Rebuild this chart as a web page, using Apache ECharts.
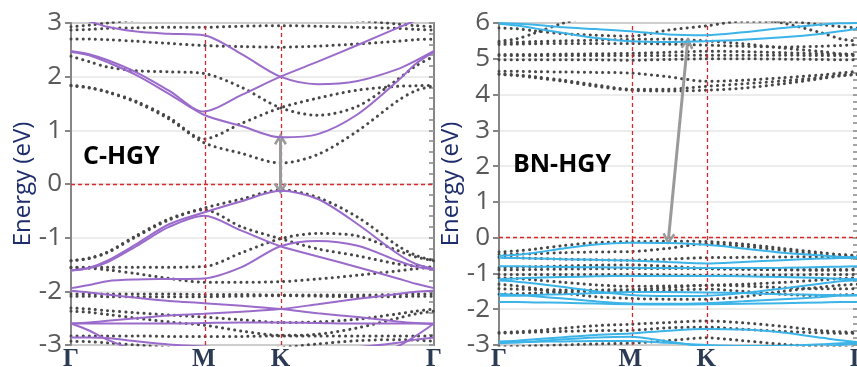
<!DOCTYPE html>
<html>
<head>
<meta charset="utf-8">
<script src="https://cdn.jsdelivr.net/npm/echarts@6/dist/echarts.min.js"></script>
<style>
  html, body { margin: 0; padding: 0; background: #fff; }
  #chart { width: 857px; height: 367px; }
</style>
</head>
<body>
<div id="chart"></div>
<script>
// path coordinate along Γ-M-K-Γ (fraction of the total length)
const kPath = [0, 0.05, 0.1, 0.18, 0.27, 0.366, 0.47, 0.577, 0.68, 0.79, 0.9, 0.95, 1];
const kTicks = [0, 0.366, 0.577, 1];
const kLabels = ['Γ', 'M', 'K', 'Γ'];

// C-HGY, solid (purple) bands, eV at each kPath point
const cHgySolid = [
  [3.1, 3.03, 2.93, 2.84, 2.8, 2.77, 2.42, 2.0, 1.86, 1.92, 2.14, 2.3, 2.48],
  [2.48, 2.42, 2.31, 2.08, 1.74, 1.35, 1.66, 2.0, 2.28, 2.59, 2.91, 3.05, 3.2],
  [2.46, 2.4, 2.27, 2.03, 1.68, 1.29, 1.08, 0.87, 0.93, 1.3, 1.92, 2.24, 2.46],
  [-1.61, -1.56, -1.43, -1.12, -0.75, -0.53, -0.32, -0.125, -0.28, -0.75, -1.3, -1.49, -1.58],
  [-1.61, -1.57, -1.46, -1.16, -0.8, -0.59, -0.87, -1.16, -1.35, -1.55, -1.76, -1.86, -1.94],
  [-1.94, -1.88, -1.81, -1.78, -1.77, -1.76, -1.55, -1.16, -1.06, -1.15, -1.43, -1.54, -1.6],
  [-1.99, -2.02, -2.06, -2.12, -2.18, -2.22, -2.27, -2.33, -2.41, -2.48, -2.56, -2.59, -2.61],
  [-2.6, -2.58, -2.55, -2.5, -2.45, -2.42, -2.38, -2.33, -2.24, -2.14, -2.05, -2.01, -1.99],
  [-2.6, -2.6, -2.6, -2.6, -2.6, -2.59, -2.58, -2.58, -2.59, -2.6, -2.6, -2.6, -2.6],
  [-2.6, -2.73, -2.9, -3.1, -3.25, -3.35, -3.4, -3.4, -3.35, -3.2, -3.02, -2.83, -2.6],
  [-2.86, -2.86, -2.87, -2.93, -2.99, -3.03, -3.06, -3.06, -3.06, -3.04, -2.96, -2.9, -2.86]
];

// C-HGY, dotted (gray) bands
const cHgyDotted = [
  [1.83, 1.79, 1.71, 1.52, 1.21, 0.77, 0.57, 0.39, 0.55, 0.99, 1.55, 1.74, 1.83],
  [1.84, 1.8, 1.72, 1.54, 1.24, 0.84, 1.13, 1.42, 1.6, 1.75, 1.82, 1.83, 1.84],
  [2.38, 2.28, 2.18, 2.11, 2.09, 2.06, 1.8, 1.42, 1.28, 1.45, 1.95, 2.2, 2.38],
  [2.7, 2.7, 2.69, 2.66, 2.62, 2.58, 2.56, 2.55, 2.57, 2.61, 2.66, 2.69, 2.7],
  [2.87, 2.88, 2.9, 2.91, 2.92, 2.92, 2.94, 2.95, 2.94, 2.92, 2.9, 2.88, 2.87],
  [2.93, 2.96, 3.0, 3.06, 3.1, 3.12, 3.12, 3.12, 3.1, 3.05, 2.98, 2.95, 2.93],
  [-1.43, -1.38, -1.27, -0.96, -0.65, -0.45, -0.28, -0.11, -0.25, -0.62, -1.15, -1.33, -1.43],
  [-1.43, -1.39, -1.28, -0.98, -0.67, -0.48, -0.8, -1.02, -1.21, -1.34, -1.49, -1.53, -1.55],
  [-1.55, -1.55, -1.55, -1.55, -1.55, -1.54, -1.28, -1.02, -0.92, -0.97, -1.24, -1.36, -1.43],
  [-1.56, -1.57, -1.6, -1.67, -1.76, -1.83, -1.83, -1.82, -1.77, -1.7, -1.62, -1.58, -1.55],
  [-2.05, -2.05, -2.05, -2.05, -2.05, -2.06, -2.06, -2.07, -2.07, -2.07, -2.06, -2.05, -2.05],
  [-2.09, -2.09, -2.1, -2.1, -2.1, -2.1, -2.09, -2.08, -2.09, -2.1, -2.1, -2.09, -2.09],
  [-2.31, -2.33, -2.36, -2.4, -2.44, -2.48, -2.53, -2.58, -2.57, -2.52, -2.42, -2.37, -2.33],
  [-2.37, -2.39, -2.43, -2.5, -2.57, -2.63, -2.74, -2.82, -2.8, -2.68, -2.5, -2.42, -2.37],
  [-2.83, -2.83, -2.83, -2.83, -2.84, -2.84, -2.84, -2.83, -2.83, -2.83, -2.83, -2.83, -2.83],
  [-2.93, -2.94, -2.96, -3.0, -3.05, -3.1, -3.1, -3.05, -2.98, -2.92, -2.9, -2.91, -2.93]
];

// BN-HGY, solid (cyan) bands
const bnHgySolid = [
  [5.98, 5.93, 5.85, 5.72, 5.58, 5.49, 5.47, 5.49, 5.53, 5.6, 5.7, 5.77, 5.84],
  [6.0, 5.98, 5.95, 5.88, 5.83, 5.77, 5.68, 5.66, 5.74, 5.86, 5.96, 5.99, 6.0],
  [-0.51, -0.48, -0.42, -0.3, -0.19, -0.14, -0.15, -0.2, -0.3, -0.42, -0.5, -0.53, -0.55],
  [-0.56, -0.57, -0.58, -0.6, -0.62, -0.64, -0.68, -0.72, -0.68, -0.63, -0.58, -0.57, -0.56],
  [-0.8, -0.8, -0.81, -0.82, -0.83, -0.84, -0.85, -0.85, -0.85, -0.84, -0.82, -0.81, -0.8],
  [-1.16, -1.14, -1.12, -1.1, -1.08, -1.07, -1.07, -1.07, -1.08, -1.1, -1.13, -1.15, -1.16],
  [-1.2, -1.23, -1.28, -1.38, -1.5, -1.6, -1.63, -1.62, -1.55, -1.42, -1.28, -1.22, -1.18],
  [-1.57, -1.6, -1.64, -1.7, -1.78, -1.84, -1.85, -1.83, -1.78, -1.72, -1.66, -1.62, -1.6],
  [-1.8, -1.8, -1.81, -1.82, -1.84, -1.86, -1.87, -1.86, -1.85, -1.83, -1.81, -1.8, -1.8],
  [-1.62, -1.62, -1.6, -1.58, -1.55, -1.52, -1.52, -1.53, -1.55, -1.58, -1.6, -1.61, -1.62],
  [-2.9, -2.88, -2.84, -2.78, -2.72, -2.68, -2.6, -2.55, -2.57, -2.65, -2.8, -2.87, -2.92],
  [-2.93, -2.92, -2.91, -2.9, -2.89, -2.89, -2.94, -3.0, -3.03, -3.02, -2.98, -2.95, -2.93],
  [-2.95, -2.93, -2.9, -2.84, -2.79, -2.77, -2.9, -3.05, -3.1, -3.1, -3.05, -3.0, -2.96]
];

// BN-HGY, dotted (gray) bands
const bnHgyDotted = [
  [4.65, 4.65, 4.64, 4.63, 4.62, 4.6, 4.5, 4.37, 4.4, 4.47, 4.55, 4.6, 4.65],
  [4.56, 4.53, 4.47, 4.37, 4.23, 4.12, 4.1, 4.12, 4.18, 4.3, 4.45, 4.52, 4.56],
  [4.58, 4.55, 4.5, 4.4, 4.27, 4.15, 4.15, 4.23, 4.3, 4.38, 4.48, 4.54, 4.57],
  [5.09, 5.09, 5.09, 5.09, 5.09, 5.09, 5.09, 5.1, 5.1, 5.1, 5.09, 5.09, 5.09],
  [4.97, 4.97, 4.97, 4.97, 4.97, 4.96, 4.98, 5.0, 5.0, 4.99, 4.98, 4.97, 4.97],
  [5.12, 5.12, 5.12, 5.13, 5.14, 5.15, 5.18, 5.21, 5.2, 5.17, 5.14, 5.13, 5.12],
  [5.86, 5.84, 5.78, 5.7, 5.66, 5.63, 5.8, 5.92, 6.05, 6.05, 5.95, 5.9, 5.86],
  [5.49, 5.56, 5.72, 6.0, 6.2, 6.3, 6.3, 6.3, 6.2, 6.0, 5.72, 5.56, 5.49],
  [5.4, 5.41, 5.42, 5.43, 5.43, 5.43, 5.41, 5.38, 5.35, 5.33, 5.35, 5.37, 5.4],
  [5.45, 5.46, 5.48, 5.5, 5.52, 5.54, 5.55, 5.5, 5.42, 5.3, 5.2, 5.14, 5.12],
  [-0.4, -0.37, -0.32, -0.22, -0.14, -0.11, -0.1, -0.11, -0.18, -0.3, -0.42, -0.47, -0.5],
  [-0.47, -0.46, -0.45, -0.42, -0.4, -0.39, -0.3, -0.17, -0.24, -0.35, -0.48, -0.54, -0.58],
  [-0.55, -0.56, -0.58, -0.6, -0.62, -0.63, -0.6, -0.56, -0.55, -0.54, -0.53, -0.53, -0.55],
  [-0.84, -0.83, -0.81, -0.79, -0.77, -0.76, -0.8, -0.86, -0.88, -0.89, -0.89, -0.89, -0.88],
  [-0.9, -0.9, -0.89, -0.88, -0.87, -0.86, -0.86, -0.87, -0.88, -0.9, -0.91, -0.91, -0.9],
  [-1.03, -1.03, -1.03, -1.03, -1.03, -1.03, -1.04, -1.05, -1.05, -1.04, -1.03, -1.03, -1.03],
  [-1.12, -1.14, -1.18, -1.25, -1.32, -1.36, -1.35, -1.33, -1.3, -1.25, -1.18, -1.14, -1.12],
  [-1.43, -1.44, -1.45, -1.46, -1.46, -1.45, -1.4, -1.33, -1.35, -1.4, -1.43, -1.43, -1.43],
  [-1.58, -1.57, -1.55, -1.52, -1.5, -1.5, -1.47, -1.44, -1.5, -1.58, -1.62, -1.6, -1.58],
  [-1.3, -1.35, -1.42, -1.55, -1.65, -1.7, -1.72, -1.72, -1.65, -1.5, -1.38, -1.33, -1.3],
  [-2.65, -2.63, -2.6, -2.53, -2.46, -2.42, -2.37, -2.33, -2.38, -2.48, -2.6, -2.63, -2.65],
  [-2.67, -2.66, -2.64, -2.62, -2.6, -2.59, -2.52, -2.5, -2.56, -2.62, -2.66, -2.67, -2.67],
  [-3.05, -3.04, -3.02, -3.0, -2.97, -2.95, -2.88, -2.8, -2.88, -2.98, -3.05, -3.06, -3.06]
];

// gap arrows: [k, E] of each end
const cHgyGap = [[0.577, 0.84], [0.577, -0.09]];
const bnHgyGap = [[0.525, 5.44], [0.472, -0.04]];

const chart = echarts.init(document.getElementById('chart'));

const purple = '#9a6bcb';
const cyan = '#3cb4e8';
const dotGray = '#474747';
const frameGray = '#868686';
const chevron = 'path://M5,0 L10,8.5 L8.3,9.6 L5,4 L1.7,9.6 L0,8.5 Z';

function bands(list, grid, style, z) {
  return list.map(b => ({
    type: 'line',
    xAxisIndex: grid,
    yAxisIndex: grid * 2,
    data: b.map((e, i) => [kPath[i], e]),
    smooth: 0.3,
    symbol: 'none',
    silent: true,
    clip: true,
    z: z,
    lineStyle: style
  }))
}

const dotStyle = { color: dotGray, width: 3, type: [0.1, 6], cap: 'round' };

function guides(grid, gap) {
  return [
    {
      type: 'line', xAxisIndex: grid, yAxisIndex: grid * 2, data: [], z: 3,
      markLine: {
        silent: true, symbol: 'none', animation: false,
        label: { show: false },
        lineStyle: { color: '#d62a2a', type: [4, 3], width: 1.3, opacity: 1 },
        data: [{ xAxis: kTicks[1] }, { xAxis: kTicks[2] }, { yAxis: 0 }]
      }
    },
    {
      type: 'line', xAxisIndex: grid, yAxisIndex: grid * 2, data: [], z: 6,
      markLine: {
        silent: true, animation: false,
        symbol: [chevron, chevron], symbolSize: [13, 12],
        label: { show: false },
        lineStyle: { color: '#9a9a9a', type: 'solid', width: 3 },
        data: [[{ coord: gap[0] }, { coord: gap[1] }]]
      }
    }
  ]
}

function xAxis(grid) {
  return {
    type: 'value', gridIndex: grid, min: 0, max: 1,
    axisLine: { show: false },
    axisTick: { show: false },
    splitLine: { show: false },
    axisLabel: {
      customValues: kTicks,
      margin: 2,
      color: '#2c3b55',
      fontFamily: 'Liberation Serif',
      fontWeight: 'bold',
      fontSize: 25,
      formatter: v => {
        let best = 0
        kTicks.forEach((t, i) => { if (Math.abs(t - v) < Math.abs(kTicks[best] - v)) best = i })
        return kLabels[best]
      }
    }
  }
}

function yAxes(grid, range) {
  return [
    {
      type: 'value', gridIndex: grid, min: range[0], max: range[1], interval: 1,
      name: 'Energy (eV)', nameLocation: 'middle', nameRotate: 90, nameGap: 26,
      nameTextStyle: { color: '#1d2d6b', fontSize: 24, fontFamily: 'Open Sans' },
      axisLine: { show: true, lineStyle: { color: frameGray, width: 2 } },
      axisTick: { show: true, inside: false, length: 6, lineStyle: { color: frameGray, width: 2 } },
      axisLabel: { color: '#595959', fontSize: 26, fontFamily: 'Open Sans', margin: 9 },
      splitLine: { show: true, lineStyle: { color: '#e6e6e6', width: 1.5 } }
    },
    {
      type: 'value', gridIndex: grid, min: range[0], max: range[1], interval: 1,
      axisLine: { show: false },
      axisLabel: { show: false },
      splitLine: { show: false },
      axisTick: { show: true, inside: true, length: 5, lineStyle: { color: frameGray, width: 1.5 } },
      minorTick: { show: true, splitNumber: 5, length: 5, lineStyle: { color: frameGray, width: 1.5 } }
    }
  ]
}

const option = {
  animation: false,
  backgroundColor: '#fff',
  grid: [
    { left: 71, top: 23, width: 363, height: 322, show: true, borderColor: frameGray, borderWidth: 2, backgroundColor: 'transparent', outerBoundsMode: 'none', containLabel: false },
    { left: 499, top: 23, width: 359, height: 322, show: true, borderColor: frameGray, borderWidth: 2, backgroundColor: 'transparent', outerBoundsMode: 'none', containLabel: false }
  ],
  xAxis: [xAxis(0), xAxis(1)],
  yAxis: [...yAxes(0, [-3, 3]), ...yAxes(1, [-3, 6])],
  graphic: [
    { type: 'text', left: 83, top: 144, z: 10, style: { text: 'C-HGY', font: 'bold 25px "Open Sans"', fill: '#000' } },
    { type: 'text', left: 513, top: 152, z: 10, style: { text: 'BN-HGY', font: 'bold 25px "Open Sans"', fill: '#000' } }
  ],
  series: [
    ...guides(0, cHgyGap),
    ...bands(cHgyDotted, 0, dotStyle, 4),
    ...bands(cHgySolid, 0, { color: purple, width: 2 }, 5),
    ...guides(1, bnHgyGap),
    ...bands(bnHgyDotted, 1, dotStyle, 4),
    ...bands(bnHgySolid, 1, { color: cyan, width: 2 }, 5)
  ]
}

chart.setOption(option)
</script>
</body>
</html>
